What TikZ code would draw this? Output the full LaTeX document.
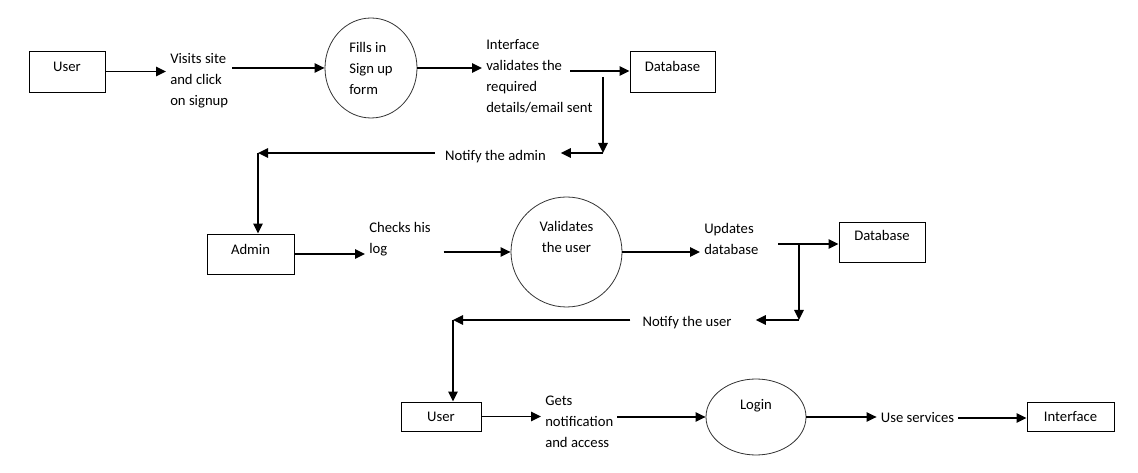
\documentclass[tikz,border=0pt]{standalone}
\usepackage{fontspec}
\setmainfont{Carlito}
\usepackage{tikz}
\usetikzlibrary{shapes.geometric,arrows.meta,positioning}
\newcommand{\dfdfont}{\fontsize{11}{15.75}\selectfont}

\begin{document}
\begin{tikzpicture}[
  x=0.75pt, y=-0.75pt,
  box/.style={rectangle, draw=black, line width=0.7pt, inner sep=0pt,
    text height=7pt, text depth=0pt, font=\dfdfont},
  proc/.style={ellipse, draw=black!80, line width=0.6pt, inner sep=0pt,
    align=center, font=\dfdfont},
  flow/.style={align=left, inner sep=3pt, font=\dfdfont},
  arr/.style={-{Triangle[length=7.5pt, width=7pt]}, line width=1.2pt}]

\useasboundingbox (0,0) rectangle (1138,473);

% sign up row
\node[box, minimum width=57pt, minimum height=30.75pt, text depth=6.8pt] (user1) at (67,71.5) {User};
\node[flow, anchor=west] (visits) at (166,81) {Visits site\\and click\\on signup};
\node[proc, minimum width=69pt, minimum height=75pt, align=left] (fills) at (371,68) {Fills in\\Sign up\\form};
\node[flow, anchor=west] (checkin) at (482,76) {Interface\\validates the\\required\\details/email sent};
\node[box, minimum width=63.75pt, minimum height=30.75pt, text depth=6.8pt] (db1) at (672.5,71.5) {Database};
\coordinate (tap1) at (570,71);
\coordinate (drop1) at (603,77);
\node[flow] (notadmin) at (495.5,157) {Notify the admin};
\coordinate (bend1) at (258,153);

% admin row
\node[box, minimum width=65.25pt, minimum height=30pt, text depth=6pt] (admin) at (250.5,254) {Admin};
\node[flow, anchor=west] (checks) at (365,239) {Checks his\\log};
\node[proc, minimum width=83.25pt, minimum height=82.5pt, text depth=22pt] (validate) at (566.5,252) {Validates\\the user};
\node[flow, anchor=west] (updates) at (700,239) {Updates\\database};
\node[box, minimum width=64.5pt, minimum height=30pt, text depth=9pt] (db2) at (882,242) {Database};
\coordinate (tap2) at (778,244);
\coordinate (drop2) at (799,244);
\node[flow] (notuser) at (687,323) {Notify the user};
\coordinate (bend2) at (453,320);

% login row
\node[box, minimum width=60pt, minimum height=21.75pt] (user2) at (441,416.5) {User};
\node[flow, anchor=west] (gets) at (541,422) {Gets\\notification\\and access};
\node[proc, minimum width=75pt, minimum height=57pt, text depth=19pt] (login) at (756,417) {Login};
\node[flow] (use) at (917.5,418) {Use services};
\node[box, minimum width=65.25pt, minimum height=21.75pt] (iface) at (1070.5,416.5) {Interface};

\draw[arr] (user1) -- (user1 -| visits.west);
\draw[arr] (visits.east |- fills) -- (fills);
\draw[arr] (fills) -- (fills -| checkin.west);
\draw[arr] (tap1) -- (tap1 -| db1.west);
\draw[arr] (drop1) -- (drop1 |- bend1);
\draw[arr, shorten >=8pt] (drop1 |- bend1) -- (notadmin.east |- bend1);
\draw[arr, shorten <=4.5pt] (notadmin.west |- bend1) -- (bend1);
\draw[arr] (bend1) -- (bend1 |- admin.north);

\draw[arr] (admin) -- (admin -| checks.west);
\draw[arr, shorten <=6.5pt] (checks.east |- validate) -- (validate);
\draw[arr] (validate) -- (validate -| updates.west);
\draw[arr] (tap2) -- (tap2 -| db2.west);
\draw[arr] (drop2) -- (drop2 |- bend2);
\draw[arr, shorten >=15pt] (drop2 |- bend2) -- (notuser.east |- bend2);
\draw[arr, shorten <=6pt] (notuser.west |- bend2) -- (bend2);
\draw[arr] (bend2) -- (bend2 |- user2.north);

\draw[arr] (user2) -- (user2 -| gets.west);
\draw[arr] (gets.east |- login) -- (login);
\draw[arr] (login) -- (login -| use.west);
\draw[arr] (use) -- (use -| iface.west);
\end{tikzpicture}
\end{document}
